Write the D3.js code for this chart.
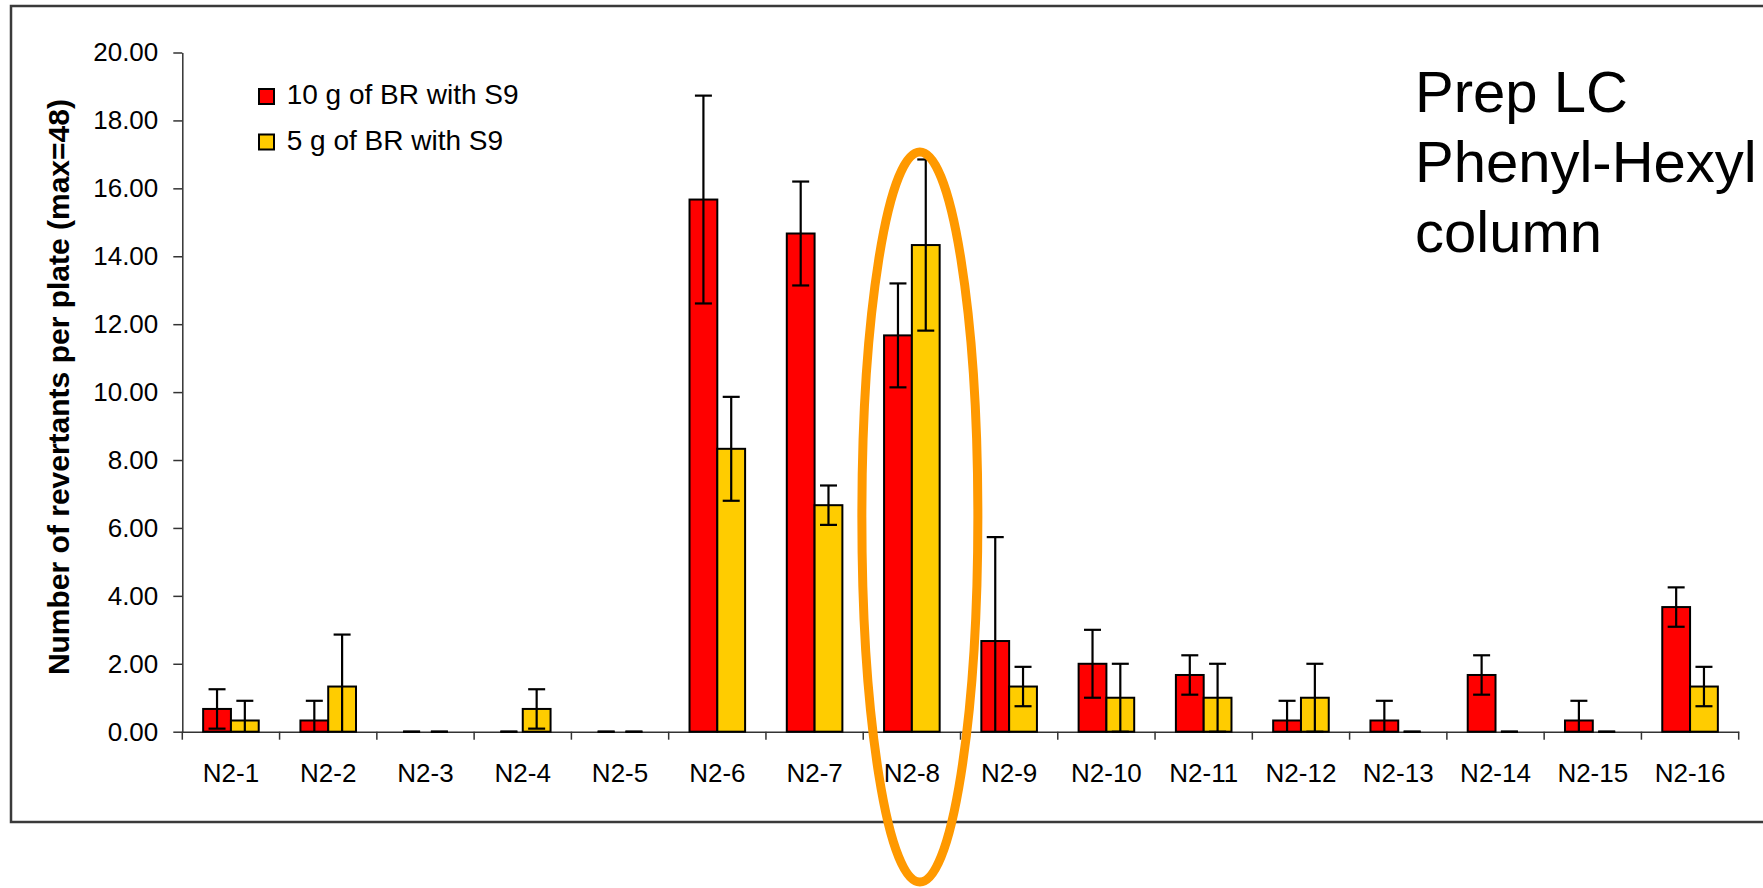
<!DOCTYPE html>
<html>
 <head>
  <meta charset="UTF-8">
  <title>Revertants per plate</title>
  <style>
    body { margin: 0; background: #fff; }
    text { font-family: "Liberation Sans", Arial, sans-serif; fill: #000; }
  </style>
 </head>
 <body>
<div id="viz-wrapper"></div>
 <script src="https://d3js.org/d3.v7.min.js"></script>
 <script>
    // fractions collected from the prep LC run
    var categories = ["N2-1", "N2-2", "N2-3", "N2-4", "N2-5", "N2-6", "N2-7", "N2-8",
                      "N2-9", "N2-10", "N2-11", "N2-12", "N2-13", "N2-14", "N2-15", "N2-16"];
    var series = ["10 g of BR with S9", "5 g of BR with S9"];
    var colors = ["#ff0000", "#ffcc00"];

    // mean revertants per plate and their error bars
    var tenGram    = [0.67, 0.33, 0, 0, 0, 15.67, 14.67, 11.67, 2.67, 2.00, 1.67, 0.33, 0.33, 1.67, 0.33, 3.67];
    var tenGramErr = [0.58, 0.58, 0, 0, 0, 3.06, 1.53, 1.53, 3.06, 1.00, 0.58, 0.58, 0.58, 0.58, 0.58, 0.58];
    var fiveGram    = [0.33, 1.33, 0, 0.67, 0, 8.33, 6.67, 14.33, 1.33, 1.00, 1.00, 1.00, 0, 0, 0, 1.33];
    var fiveGramErr = [0.58, 1.53, 0, 0.58, 0, 1.53, 0.58, 2.52, 0.58, 1.00, 1.00, 1.00, 0, 0, 0, 0.58];

    var yTicks = [0, 2, 4, 6, 8, 10, 12, 14, 16, 18, 20];
    var yTitle = "Number of revertants per plate (max=48)";
    var noteLines = ["Prep LC", "Phenyl-Hexyl", "column"];
    var highlighted = "N2-8";

    var width = 1763, height = 888;
    // plot area edges (don't call these top/left: window.top is read-only)
    var plotL = 182.3, plotR = 1738.7, plotT = 52.5, plotB = 731.7;

    var svg = d3.select("#viz-wrapper")
                .append("svg")
                .attr("width", width)
                .attr("height", height)
                .style("display", "block");

    svg.append("rect").attr("width", width).attr("height", height).attr("fill", "#fff");

    // outer chart frame (runs off the right side)
    svg.append("rect")
       .attr("x", 11).attr("y", 6)
       .attr("width", 1800).attr("height", 816)
       .attr("fill", "none")
       .attr("stroke", "#3a3a3a")
       .attr("stroke-width", 2.5);

    var x = d3.scaleBand().domain(categories).range([plotL, plotR]);
    var inner = d3.scaleBand().domain(d3.range(series.length))
                  .range([0, x.bandwidth()])
                  .paddingInner(0).paddingOuter(0.75);
    var y = d3.scaleLinear().domain([0, 20]).range([plotB, plotT]);

    var rows = categories.map(function(c, i) {
        return {
            cat: c,
            values: [
                {s: 0, v: tenGram[i], e: tenGramErr[i]},
                {s: 1, v: fiveGram[i], e: fiveGramErr[i]}
            ]
        };
    });

    // y axis
    var yAxis = svg.append("g")
       .attr("transform", "translate(" + plotL + ",0)")
       .call(d3.axisLeft(y).tickValues(yTicks).tickFormat(d3.format(".2f"))
               .tickSize(9).tickPadding(15).tickSizeOuter(0));
    yAxis.select(".domain").attr("stroke", "#333").attr("stroke-width", 1.5);
    yAxis.selectAll(".tick line").attr("stroke", "#333").attr("stroke-width", 1.5);
    yAxis.selectAll(".tick text")
         .style("font-family", "'Liberation Sans', Arial, sans-serif")
         .style("font-size", "26px").attr("fill", "#000");

    // x axis: labels centred, ticks between categories
    var xAxis = svg.append("g")
       .attr("transform", "translate(0," + plotB + ")")
       .call(d3.axisBottom(x).tickSize(0).tickSizeOuter(0));
    xAxis.select(".domain").attr("stroke", "#333").attr("stroke-width", 1.5);
    xAxis.selectAll(".tick text")
         .attr("y", 50).attr("dy", 0)
         .style("font-family", "'Liberation Sans', Arial, sans-serif")
         .style("font-size", "26px").attr("fill", "#000");
    xAxis.selectAll(".sep")
         .data(categories.concat(["end"]))
         .enter().append("line")
         .attr("class", "sep")
         .attr("x1", function(d, i) { return plotL + i * x.step(); })
         .attr("x2", function(d, i) { return plotL + i * x.step(); })
         .attr("y1", 0).attr("y2", 8)
         .attr("stroke", "#333").attr("stroke-width", 1.5);

    // bars
    var groups = svg.selectAll(".grp")
                    .data(rows)
                    .enter().append("g")
                    .attr("class", "grp")
                    .attr("transform", function(d) { return "translate(" + x(d.cat) + ",0)"; });

    groups.selectAll("rect")
          .data(function(d) { return d.values; })
          .enter().append("rect")
          .attr("x", function(d) { return inner(d.s); })
          .attr("width", inner.bandwidth())
          .attr("y", function(d) { return y(d.v); })
          .attr("height", function(d) { return y(0) - y(d.v); })
          .attr("fill", function(d) { return colors[d.s]; })
          .attr("stroke", "#000")
          .attr("stroke-width", 2);

    // error bars
    var capW = 17;
    var err = groups.selectAll(".err")
          .data(function(d) { return d.values; })
          .enter().append("g")
          .attr("class", "err")
          .attr("stroke", "#000")
          .attr("stroke-width", 2.2);
    err.append("line")
       .attr("x1", function(d) { return inner(d.s) + inner.bandwidth() / 2; })
       .attr("x2", function(d) { return inner(d.s) + inner.bandwidth() / 2; })
       .attr("y1", function(d) { return y(Math.min(20, d.v + d.e)); })
       .attr("y2", function(d) { return y(Math.max(0, d.v - d.e)); });
    err.append("line")
       .attr("x1", function(d) { return inner(d.s) + inner.bandwidth() / 2 - capW / 2; })
       .attr("x2", function(d) { return inner(d.s) + inner.bandwidth() / 2 + capW / 2; })
       .attr("y1", function(d) { return y(d.v + d.e); })
       .attr("y2", function(d) { return y(d.v + d.e); });
    err.filter(function(d) { return d.v - d.e >= 0; })
       .append("line")
       .attr("x1", function(d) { return inner(d.s) + inner.bandwidth() / 2 - capW / 2; })
       .attr("x2", function(d) { return inner(d.s) + inner.bandwidth() / 2 + capW / 2; })
       .attr("y1", function(d) { return y(d.v - d.e); })
       .attr("y2", function(d) { return y(d.v - d.e); });

    // y axis title
    svg.append("text")
       .attr("transform", "translate(69," + ((plotT + plotB) / 2 - 5) + ") rotate(-90)")
       .attr("text-anchor", "middle")
       .style("font-size", "30px")
       .style("font-weight", "bold")
       .text(yTitle);

    // legend
    var legend = svg.selectAll(".legend")
                    .data(series)
                    .enter().append("g")
                    .attr("class", "legend")
                    .attr("transform", function(d, i) { return "translate(259," + (89 + i * 45.5) + ")"; });
    legend.append("rect")
          .attr("width", 15).attr("height", 15)
          .attr("fill", function(d, i) { return colors[i]; })
          .attr("stroke", "#000").attr("stroke-width", 2);
    legend.append("text")
          .attr("x", 27.7).attr("y", 15)
          .style("font-size", "28px")
          .text(function(d) { return d; });

    // note in the corner
    svg.selectAll(".note")
       .data(noteLines)
       .enter().append("text")
       .attr("class", "note")
       .attr("x", 1415)
       .attr("y", function(d, i) { return 111.7 + i * 70; })
       .style("font-size", "58px")
       .text(function(d) { return d; });

    // orange ring around the highlighted fraction
    svg.append("ellipse")
       .attr("cx", x(highlighted) + x.bandwidth() / 2 + 8)
       .attr("cy", 517)
       .attr("rx", 58).attr("ry", 365)
       .attr("fill", "none")
       .attr("stroke", "#ff9900")
       .attr("stroke-width", 9);
 </script>
 </body>
</html>
